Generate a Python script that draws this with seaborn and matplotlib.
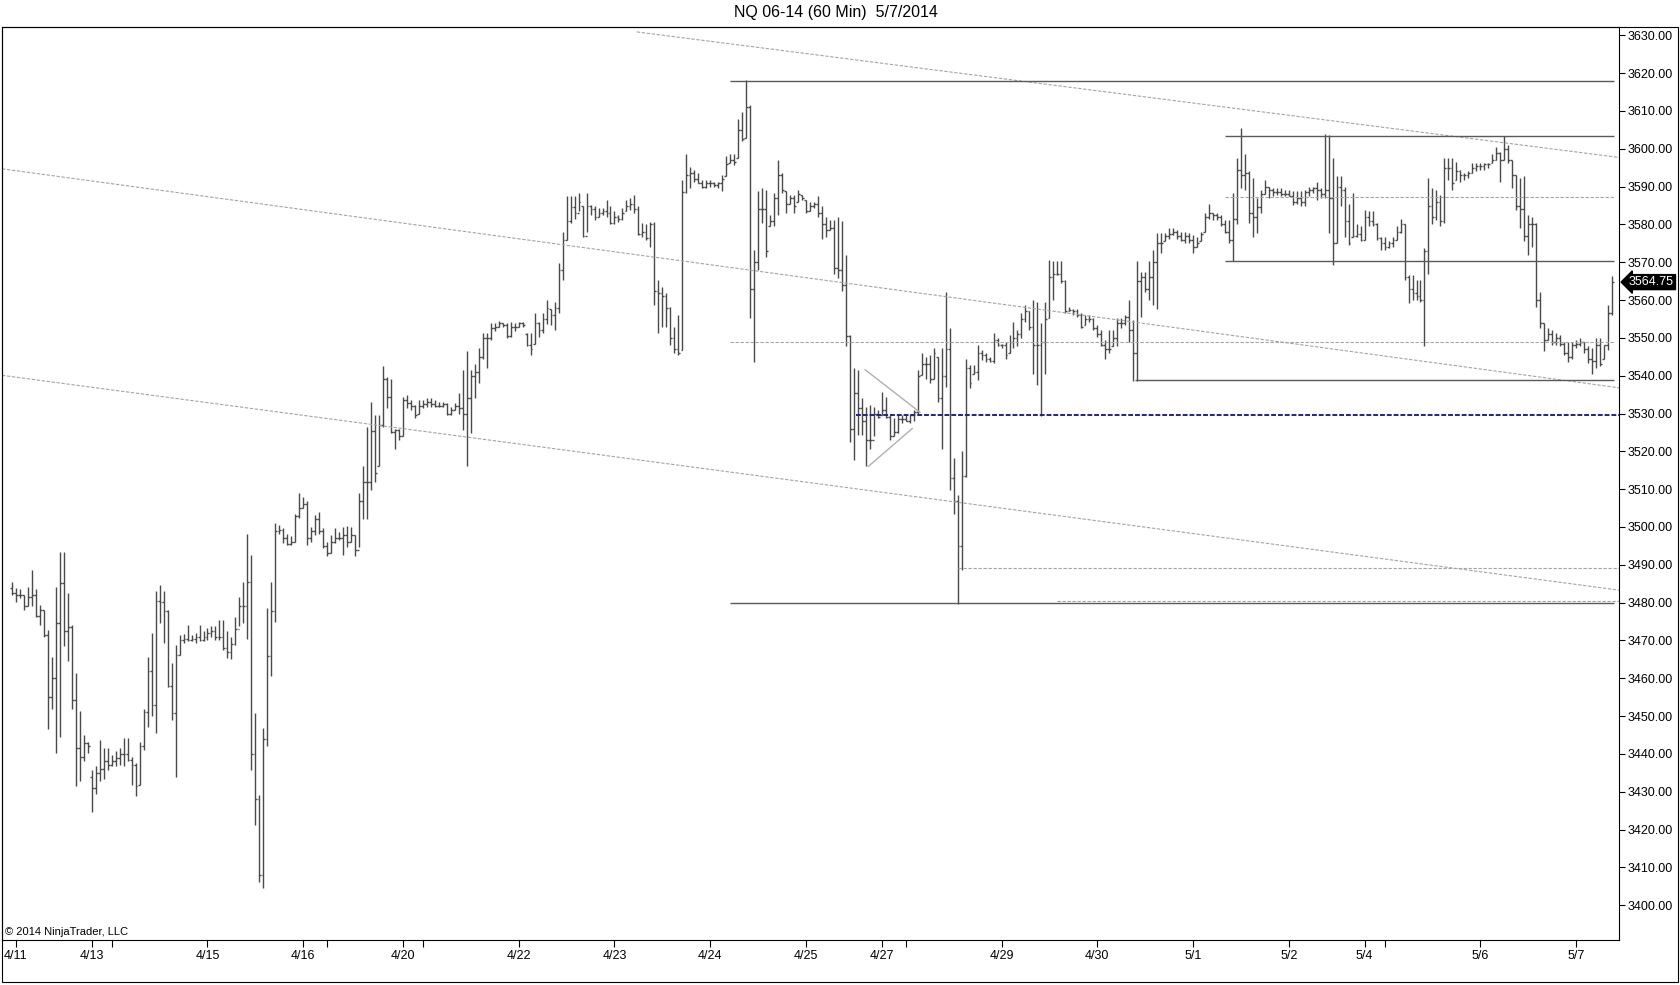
"""
NQ 06-14 hourly bar chart (NinjaTrader style) rebuilt with seaborn/matplotlib.
"""

import numpy as np
import matplotlib
matplotlib.use("Agg")
import matplotlib.pyplot as plt
import seaborn as sns
from matplotlib.patches import Rectangle
from matplotlib.ticker import FormatStrFormatter
from matplotlib.transforms import blended_transform_factory


# -----------------------------------
# Data: 60 min OHLC bars
# -----------------------------------

highs = [
    3485.5, 3484, 3483.5, 3482, 3484.25, 3488.5, 3483.5, 3479.5, 3478, 3472.75,
    3465.75, 3484.25, 3493.5, 3493.5, 3482.5, 3474, 3461.5, 3451.25, 3445, 3443.25,
    3435.75, 3436.75, 3443.75, 3441.5, 3441.5, 3439.75, 3440.75, 3441.5, 3444.25, 3444.25,
    3439.25, 3437.5, 3443.25, 3452, 3465.75, 3472, 3483, 3484.75, 3483, 3478,
    3464, 3468.75, 3471.5, 3471.75, 3474, 3471.5, 3472, 3474, 3472.5, 3473.25,
    3473.75, 3473.75, 3475.5, 3475.5, 3472.5, 3471, 3476.25, 3481.5, 3485.5, 3498.25,
    3492.5, 3450.75, 3429.25, 3446.75, 3478.5, 3485.5, 3501, 3500.5, 3499.75, 3498.25,
    3497.5, 3503.5, 3509, 3508, 3506.75, 3500, 3503.25, 3504, 3499.75, 3496,
    3498, 3499.75, 3498.75, 3500, 3500.25, 3500, 3498, 3509, 3516, 3526.5,
    3533, 3529.5, 3529.5, 3542.5, 3539.75, 3539.25, 3526, 3526, 3534.5, 3535,
    3533.5, 3532.25, 3533.5, 3533.5, 3534, 3534, 3533.5, 3533, 3533, 3532.75,
    3531.75, 3532.75, 3535.5, 3541.5, 3546.5, 3541.5, 3543, 3547.25, 3551.25, 3551.25,
    3554, 3554, 3554.5, 3554, 3554, 3554.25, 3554, 3554.25, 3554.25, 3551.25,
    3551.25, 3556.5, 3554.25, 3556.5, 3560, 3557.75, 3559.5, 3569.75, 3578, 3587.5,
    3587.5, 3587.5, 3588.25, 3584.75, 3588.25, 3585.25, 3584.75, 3584.25, 3584.25, 3586.5,
    3584.75, 3583.5, 3582.5, 3584.25, 3586.5, 3587, 3587.75, 3584.75, 3580.25, 3580,
    3580.75, 3580.75, 3565.25, 3563.5, 3561.75, 3558.25, 3553, 3556, 3591.75, 3598.75,
    3595.25, 3594.5, 3593.5, 3591.75, 3591.75, 3591.75, 3591.25, 3591.25, 3593, 3598,
    3598.75, 3598.5, 3608, 3609.75, 3618.25, 3611.5, 3573.25, 3588.75, 3589.5, 3589,
    3582.5, 3588.25, 3597, 3593.5, 3588.75, 3587.75, 3587.75, 3589, 3587.75, 3586.5,
    3586, 3586, 3587.5, 3584.75, 3582, 3581.25, 3581.25, 3582, 3581, 3572,
    3550.75, 3542, 3541.5, 3534, 3531.75, 3532.25, 3531.75, 3531, 3535.75, 3534.5,
    3529.5, 3528.75, 3529.5, 3529.5, 3529.5, 3530, 3531, 3541.5, 3546, 3545,
    3545.5, 3547.25, 3545, 3547.25, 3562.25, 3552.5, 3518.25, 3508.5, 3520, 3544.5,
    3542.75, 3542.75, 3548, 3546.75, 3546, 3545, 3551.25, 3550, 3548.5, 3549,
    3550.75, 3554.25, 3552, 3556.5, 3558.75, 3557, 3560, 3559.5, 3554, 3559.5,
    3570.5, 3570.25, 3570.25, 3570.25, 3565.25, 3558.25, 3557.75, 3557.75, 3556.5, 3556,
    3556, 3555.25, 3553.5, 3552, 3549.5, 3552, 3552, 3555.25, 3555.25, 3556,
    3560, 3554.75, 3570.25, 3567.5, 3567.5, 3570.25, 3573.25, 3577.75, 3577.75, 3577.75,
    3579, 3579, 3578.5, 3578, 3578, 3577.75, 3577.25, 3576.75, 3578, 3583,
    3585.5, 3583, 3583, 3582.5, 3581.25, 3581.25, 3588.25, 3597.5, 3605.5, 3598.75,
    3594, 3592.25, 3587, 3589, 3591.75, 3590, 3589.5, 3589.5, 3589.5, 3589,
    3589, 3588.75, 3588.75, 3588.75, 3589, 3590, 3590, 3591.25, 3589.5, 3604,
    3603.75, 3597.5, 3592.75, 3592.75, 3590, 3585.5, 3588.25, 3580, 3579.5, 3583.75,
    3583.5, 3583.5, 3580.25, 3576.75, 3576.75, 3575.5, 3576.75, 3579.5, 3581.5, 3580,
    3566.5, 3566.5, 3565.25, 3565.25, 3573.75, 3592.25, 3589.5, 3589, 3587.75, 3597.5,
    3597.5, 3597.5, 3596.5, 3594.5, 3593.5, 3594, 3596.25, 3596.25, 3596.25, 3596.25,
    3596.25, 3598.75, 3600.5, 3599.25, 3603.5, 3601, 3597, 3593, 3592.25, 3592.75,
    3582.5, 3582, 3580.25, 3562.25, 3554, 3552.5, 3552, 3551.25, 3550.75, 3549,
    3549, 3549, 3549.5, 3550, 3549, 3547.75, 3547.25, 3550, 3550, 3548,
    3558.75, 3566.25,
]

lows = [
    3482, 3480.25, 3481.25, 3478, 3479, 3479, 3476.25, 3474, 3471, 3446.5,
    3451.75, 3440.25, 3444.5, 3468.5, 3464.5, 3452, 3431.5, 3432.75, 3438, 3440.25,
    3424.75, 3429.5, 3432.75, 3433.25, 3435.75, 3436.75, 3436.75, 3437, 3436.75, 3438,
    3431.75, 3428.75, 3431.75, 3441, 3447.25, 3450, 3445.5, 3474.5, 3469.25, 3457.75,
    3449, 3434, 3466.25, 3469.25, 3469.75, 3469.75, 3469.25, 3469.75, 3469.75, 3470.25,
    3471, 3470.25, 3470.25, 3467.5, 3465.25, 3465, 3468.75, 3473.75, 3474.5, 3470.5,
    3435.75, 3421.25, 3406.25, 3404.5, 3442, 3460.5, 3475, 3498.25, 3495.75, 3495.25,
    3495.25, 3496, 3502.25, 3505, 3495.25, 3496, 3498, 3498.25, 3494.5, 3492.25,
    3493, 3495.75, 3496.5, 3492.5, 3494.75, 3496, 3492.25, 3494.75, 3502, 3502,
    3509.75, 3512, 3516, 3526.5, 3531.5, 3524.75, 3520.5, 3523, 3524, 3531.5,
    3531, 3528.75, 3530, 3531.5, 3531.75, 3531.75, 3531.75, 3531.75, 3531.75, 3529.5,
    3529.5, 3531, 3530, 3525.75, 3516, 3524.75, 3534, 3538, 3544.5, 3542,
    3549.5, 3551.75, 3553, 3553, 3550, 3550.25, 3551.75, 3553, 3553, 3547.75,
    3545.5, 3548.5, 3550.25, 3551.25, 3553.75, 3553.5, 3552, 3556.5, 3565.25, 3576,
    3580.25, 3581.5, 3583.5, 3576.75, 3578, 3582.5, 3581.25, 3582, 3582.5, 3582,
    3580, 3580, 3580.75, 3581.25, 3583.5, 3583.75, 3583, 3577.25, 3576.75, 3576,
    3574, 3558.75, 3551.25, 3553, 3553, 3548, 3546, 3545.5, 3546.75, 3588.25,
    3589.5, 3591.25, 3591, 3589.5, 3589.5, 3590, 3590, 3589.5, 3588.75, 3592.75,
    3596.25, 3595.75, 3597.5, 3602, 3602.75, 3555.25, 3543.5, 3568, 3580.25, 3571.5,
    3579.5, 3579.5, 3582.5, 3588.25, 3583, 3585.5, 3583, 3586, 3586.5, 3583,
    3583.5, 3584.25, 3582, 3576.25, 3576.75, 3578.5, 3567, 3565.75, 3562.5, 3547.75,
    3522.5, 3517.75, 3524.25, 3524.25, 3516, 3520.5, 3524, 3528.75, 3529.5, 3528.75,
    3523, 3524, 3524.75, 3527.5, 3528, 3527.5, 3528, 3530, 3540.25, 3539,
    3538, 3539.25, 3533, 3520.5, 3537, 3509.75, 3503.5, 3479.75, 3488.5, 3513.25,
    3536.75, 3540.5, 3538.75, 3544.25, 3543.75, 3543.75, 3543.25, 3547.75, 3547.25, 3544.5,
    3546, 3547.25, 3547.75, 3550, 3554.25, 3552, 3540.5, 3537.5, 3529.25, 3540.5,
    3555.25, 3560, 3566.75, 3564.5, 3556.5, 3557, 3556, 3555.5, 3552.5, 3553.5,
    3554.25, 3552, 3550.25, 3547.75, 3544.5, 3546, 3547.75, 3547.75, 3552.5, 3553.5,
    3549, 3538.5, 3538.5, 3555.5, 3562.25, 3560, 3558.75, 3557.75, 3572.5, 3575.5,
    3576.25, 3577.25, 3576.25, 3575.5, 3575, 3575, 3572.5, 3574, 3575.5, 3578,
    3581.5, 3581.25, 3581.25, 3579.5, 3577.75, 3575, 3570.25, 3580, 3589.5, 3589,
    3580.25, 3576.75, 3577.75, 3583, 3588, 3587, 3587.5, 3587.75, 3587.5, 3587.5,
    3587.5, 3585.25, 3585.5, 3584.75, 3584.75, 3587.5, 3588.25, 3586.5, 3587, 3587,
    3577.75, 3569.25, 3575, 3584.75, 3576.75, 3574.5, 3576.75, 3576.75, 3575.5, 3576,
    3579.5, 3579.5, 3576, 3573.25, 3573.25, 3573.75, 3574, 3576, 3577.75, 3565.25,
    3559.25, 3560, 3560, 3559.5, 3547.75, 3567, 3580, 3581.25, 3579.5, 3580.5,
    3591.75, 3589, 3591.75, 3591.25, 3591.75, 3592.25, 3593.5, 3594, 3594.5, 3594.5,
    3595, 3596.25, 3597, 3591.25, 3597, 3596.25, 3589.5, 3583.75, 3579, 3575.5,
    3572, 3574, 3558.25, 3552.5, 3546.5, 3549.5, 3548, 3548, 3547.75, 3545.5,
    3543.75, 3544.5, 3547.25, 3547.75, 3546, 3543.25, 3540.5, 3542, 3542.5, 3544.5,
    3546.75, 3556,
]

closes = [
    3482.5, 3482, 3482, 3479, 3481.5, 3482, 3476.5, 3478, 3471.5, 3455,
    3460, 3474.5, 3485.25, 3472.5, 3473.5, 3454.25, 3441.5, 3439.25, 3443, 3442,
    3431, 3435, 3436, 3438, 3437, 3438, 3439, 3440, 3440, 3438.5,
    3437, 3431.5, 3442, 3451, 3462, 3453, 3480.5, 3480.25, 3477.75, 3458,
    3450.75, 3466.25, 3470, 3470.5, 3470, 3470.5, 3471, 3470, 3471, 3472,
    3472.5, 3471, 3471, 3468, 3467, 3469, 3473, 3479, 3479, 3485.5,
    3440, 3428, 3408, 3444, 3466, 3477.75, 3499, 3499.25, 3497, 3495.5,
    3496, 3503, 3505, 3506, 3497, 3499, 3502, 3499, 3495, 3493,
    3496, 3497, 3497, 3498, 3496, 3498, 3494, 3507, 3512, 3512,
    3525.25, 3514.25, 3527, 3539, 3534.5, 3525, 3525.75, 3524, 3533.5, 3532.75,
    3532, 3529.5, 3532, 3532.5, 3533, 3532.5, 3532, 3532, 3532.5, 3530,
    3531, 3532, 3531.5, 3530, 3534, 3540, 3541, 3545, 3550, 3550,
    3552.5, 3553, 3554, 3553.5, 3550.5, 3553, 3553, 3554, 3553.5, 3548,
    3547, 3554, 3552, 3555, 3558, 3556, 3558, 3568, 3576, 3581,
    3584.5, 3583, 3586, 3577, 3584.75, 3584, 3582, 3583, 3583.5, 3583,
    3580.5, 3582, 3581.5, 3583, 3585, 3585.5, 3584, 3577.5, 3578, 3576.5,
    3580, 3562.5, 3562, 3561, 3558, 3550, 3547, 3546, 3588.5, 3593,
    3593.5, 3592, 3591, 3590, 3591, 3591, 3590.5, 3591, 3592, 3596,
    3597, 3596.5, 3605, 3602.5, 3611, 3563, 3570, 3584, 3584, 3573,
    3581, 3587, 3593, 3589, 3585.5, 3587, 3585, 3588, 3587, 3583.5,
    3585, 3585.5, 3583, 3580, 3578.5, 3579, 3568.5, 3568, 3564, 3550.5,
    3526, 3535.5, 3531.5, 3528, 3523, 3523, 3530, 3529, 3531, 3529,
    3524, 3525, 3528.5, 3528.5, 3528, 3529.5, 3530.5, 3540, 3543, 3543,
    3539, 3546, 3534, 3540, 3547, 3513, 3507, 3495, 3513.5, 3542,
    3538, 3541, 3546, 3545.5, 3544.5, 3544, 3549.5, 3548, 3548, 3545.5,
    3549, 3550, 3551, 3555, 3557, 3553, 3548, 3548, 3549, 3555,
    3566, 3567, 3567, 3565, 3557, 3557.5, 3557, 3556, 3553, 3555,
    3555, 3552.5, 3551, 3548, 3547, 3547, 3550, 3554, 3554, 3555.5,
    3552, 3546, 3565, 3566, 3563, 3566, 3570, 3575, 3575, 3577,
    3577.5, 3578, 3577, 3576, 3577, 3576, 3574, 3575, 3577.5, 3582,
    3583, 3582.5, 3582, 3580, 3578, 3576, 3581.5, 3594.5, 3593, 3593.5,
    3583, 3582, 3584.5, 3588, 3590, 3589, 3588.5, 3588.5, 3588, 3588,
    3587.5, 3586, 3587, 3586, 3588.5, 3589, 3589.5, 3589, 3588, 3589,
    3587, 3575, 3590, 3589, 3581, 3575, 3577, 3577.5, 3576, 3582,
    3581, 3580, 3576.5, 3575, 3574, 3575, 3576, 3578, 3580, 3566,
    3563, 3562, 3561, 3560, 3573, 3585, 3582, 3586, 3581, 3595,
    3595, 3591, 3594, 3593, 3593, 3593.5, 3595, 3595.5, 3595.5, 3596,
    3596, 3597, 3599, 3597, 3600, 3597, 3593, 3585, 3584, 3577,
    3580, 3580, 3560, 3554, 3549.5, 3551, 3549, 3550, 3548.5, 3546,
    3545, 3548, 3548.5, 3549, 3547, 3544.5, 3544, 3548, 3543, 3548,
    3556.5, 3564.75,
]

opens = [
    3484, 3482.5, 3482, 3482, 3479, 3481.5, 3482, 3476.5, 3478, 3471.5,
    3455, 3460, 3474.5, 3485.25, 3472.5, 3473.5, 3454.25, 3441.5, 3439.25, 3443,
    3434, 3431, 3435, 3436, 3438, 3437, 3438, 3439, 3440, 3440,
    3438.5, 3437, 3431.75, 3442, 3451, 3462, 3453, 3480.5, 3480.25, 3477.75,
    3458, 3450.75, 3466.25, 3470, 3470.5, 3470, 3470.5, 3471, 3470, 3471,
    3472, 3472.5, 3471, 3471, 3468, 3467, 3469, 3473, 3479, 3479,
    3485.5, 3440, 3428, 3408, 3444, 3466, 3477.75, 3499, 3499.25, 3497,
    3495.5, 3496, 3503, 3505, 3506, 3497, 3499, 3502, 3499, 3495,
    3493, 3496, 3497, 3497, 3498, 3496, 3498, 3494, 3507, 3512,
    3512, 3525.25, 3516, 3527, 3539, 3534.5, 3525, 3525.75, 3524, 3533.5,
    3532.75, 3532, 3530, 3532, 3532.5, 3533, 3532.5, 3532, 3532, 3532.5,
    3530, 3531, 3532, 3531.5, 3530, 3534, 3540, 3541, 3545, 3550,
    3550, 3552.5, 3553, 3554, 3553.5, 3550.5, 3553, 3553, 3554, 3551,
    3548, 3548.5, 3554, 3552, 3555, 3557.75, 3556, 3558, 3568, 3576,
    3581, 3584.5, 3583, 3584.75, 3577, 3584.75, 3584, 3582, 3583, 3583.5,
    3583, 3580.5, 3582, 3581.5, 3583.5, 3585, 3585.5, 3584, 3577.5, 3578,
    3576.5, 3580, 3562.5, 3562, 3561, 3558, 3550, 3547, 3546.75, 3588.5,
    3593, 3593.5, 3592, 3591, 3590, 3591, 3591, 3590.5, 3591, 3592.75,
    3596.25, 3597, 3597.5, 3605, 3602.75, 3611, 3563, 3570, 3584, 3584,
    3579.5, 3581, 3587, 3593, 3588.75, 3585.5, 3587, 3586, 3587.75, 3586.5,
    3583.5, 3585, 3585.5, 3583, 3580, 3578.5, 3579, 3568.5, 3568, 3564,
    3550.5, 3526, 3535.5, 3531.5, 3528, 3523, 3523, 3530, 3529.5, 3531,
    3529, 3524, 3525, 3528.5, 3528.5, 3528, 3529.5, 3530.5, 3540.25, 3543,
    3543, 3539.25, 3545, 3534, 3540, 3547, 3513, 3507, 3495, 3513.5,
    3542, 3540.5, 3541, 3546, 3545.5, 3544.5, 3544, 3549.5, 3548, 3548,
    3546, 3549, 3550, 3551, 3555, 3557, 3553, 3548, 3548, 3549,
    3555.25, 3566, 3567, 3567, 3565, 3557, 3557.5, 3557, 3556, 3553.5,
    3555, 3555, 3552.5, 3551, 3548, 3547, 3547.75, 3550, 3554, 3554,
    3555.5, 3552, 3546, 3565, 3566, 3563, 3566, 3570, 3575, 3575.5,
    3577, 3577.5, 3578, 3577, 3576, 3577, 3576, 3574, 3575.5, 3578,
    3582, 3583, 3582.5, 3582, 3580, 3578, 3576, 3581.5, 3594.5, 3593,
    3593.5, 3583, 3582, 3584.5, 3588, 3590, 3589, 3588.5, 3588.5, 3588,
    3588, 3587.5, 3586, 3587, 3586, 3588.5, 3589, 3589.5, 3589, 3588,
    3589, 3587, 3575, 3590, 3589, 3581, 3576.75, 3577, 3577.5, 3576,
    3582, 3581, 3580, 3576.5, 3575, 3574, 3575, 3576, 3578, 3580,
    3566, 3563, 3562, 3561, 3560, 3573, 3585, 3582, 3586, 3581,
    3595, 3595, 3591.75, 3594, 3593, 3593, 3593.5, 3595, 3595.5, 3595.5,
    3596, 3596.25, 3597, 3599, 3597, 3600, 3597, 3593, 3585, 3584,
    3577, 3580, 3580, 3560, 3554, 3549.5, 3551, 3549, 3550, 3548.5,
    3546, 3545, 3548, 3548.5, 3549, 3547, 3544.5, 3544, 3548, 3544.5,
    3548, 3556.5,
]

# x axis labels (bar index of the labelled bar)
date_labels = ["4/11", "4/13", "4/15", "4/16", "4/20", "4/22", "4/23", "4/24", "4/25",
               "4/27", "4/29", "4/30", "5/1", "5/2", "5/4", "5/6", "5/7"]
date_ticks = [1, 20, 49, 73, 98, 127, 151, 175, 199, 218, 248, 272, 296, 320, 339, 368, 392]
minor_ticks = [25, 79, 103, 224, 344]

# drawing objects: (start bar, start price, end bar, end price)
channel_lines = [
    (156.6, 3630.9, 402.8, 3597.7),
    (-2.5, 3594.7, 402.8, 3536.8),
    (-2.5, 3540.1, 402.8, 3483.3),
]
triangle_lines = [
    (213.8, 3541.6, 227.6, 3530.3),
    (214.6, 3516.0, 225.7, 3526.1),
]
# horizontal levels: (price, start bar, end bar)
solid_levels = [(3618.0, 180, 401.5), (3603.4, 304, 401.5), (3570.4, 304, 401.5),
                (3538.8, 281.5, 401.5), (3479.9, 180, 401.5)]
dashed_levels = [(3587.2, 304, 401.5), (3548.9, 180, 401.5),
                 (3489.1, 237, 402.8), (3480.5, 262, 402.8)]
blue_level = (3529.5, 211.5, 402.8)
last_price = 3564.75


# -----------------------------------
# Figure
# -----------------------------------

sns.set_theme(style="white")
plt.rcParams["font.family"] = ["Liberation Sans", "DejaVu Sans"]

fig = plt.figure(figsize=(16.8, 9.85), dpi=100)
ax = fig.add_axes([2 / 1680, 45 / 985, 1617 / 1680, 913 / 985])

idx = np.arange(len(closes))
bar_color = "#4a4a4a"

ax.vlines(idx, lows, highs, color=bar_color, lw=1.0)
ax.hlines(opens, idx - 0.45, idx, color=bar_color, lw=1.0)
ax.hlines(closes, idx, idx + 0.45, color=bar_color, lw=1.0)

# trend channel
for x0, y0, x1, y1 in channel_lines:
    sns.lineplot(x=[x0, x1], y=[y0, y1], ax=ax, color="#a4a4a4",
                 lw=0.8, linestyle=(0, (3, 1.5)))

# triangle
for x0, y0, x1, y1 in triangle_lines:
    sns.lineplot(x=[x0, x1], y=[y0, y1], ax=ax, color="#b0b0b0", lw=1.0)

for price, start, end in solid_levels:
    ax.hlines(price, start, end, color="#5a5a5a", lw=1.0)
for price, start, end in dashed_levels:
    ax.hlines(price, start, end, color="#a4a4a4", lw=0.8,
              linestyles=(0, (3, 1.5)))
ax.hlines(blue_level[0], blue_level[1], blue_level[2], color="#22228c", lw=1.4,
          linestyles=(0, (2.5, 1)))

ax.set_xlim(-2.5, 402.75)
ax.set_ylim(3390.8, 3632.2)

# y axis on the right
ax.yaxis.tick_right()
ax.set_yticks(np.arange(3400, 3631, 10))
ax.yaxis.set_major_formatter(FormatStrFormatter("%.2f"))
ax.tick_params(axis="y", which="both", right=True, left=False, direction="out",
               length=4, width=0.8, colors="black", labelsize=9, pad=2)

ax.set_xticks(date_ticks)
ax.set_xticklabels(date_labels)
ax.set_xticks(minor_ticks, minor=True)
ax.tick_params(axis="x", which="both", bottom=True, direction="out",
               length=5, width=0.8, colors="black", labelsize=9, pad=2)

ax.set_xlabel("")
ax.set_ylabel("")
ax.grid(False)
for spine in ax.spines.values():
    spine.set_color("black")
    spine.set_linewidth(0.8)

# last price tag
tag_trans = blended_transform_factory(ax.transAxes, ax.transData)
ax.text(1.0 + 10 / 1617, last_price, f"{last_price:.2f}", transform=tag_trans,
        ha="left", va="center", color="white", fontsize=9,
        bbox=dict(boxstyle="larrow,pad=0.12", fc="black", ec="black"))

ax.text(0.002, 0.009, "\u00a9 2014 NinjaTrader, LLC", transform=ax.transAxes,
        ha="left", va="center", fontsize=8, color="black")

fig.text(836 / 1680, 1 - 13 / 985, "NQ 06-14 (60 Min)  5/7/2014",
         ha="center", va="center", fontsize=11.5, color="black")

# outer frame of the chart panel
fig.add_artist(Rectangle((2 / 1680, 3 / 985), 1676 / 1680, 955 / 985,
                         transform=fig.transFigure, fill=False,
                         ec="black", lw=0.8))

fig.savefig("out.png", dpi=100)
plt.close(fig)
